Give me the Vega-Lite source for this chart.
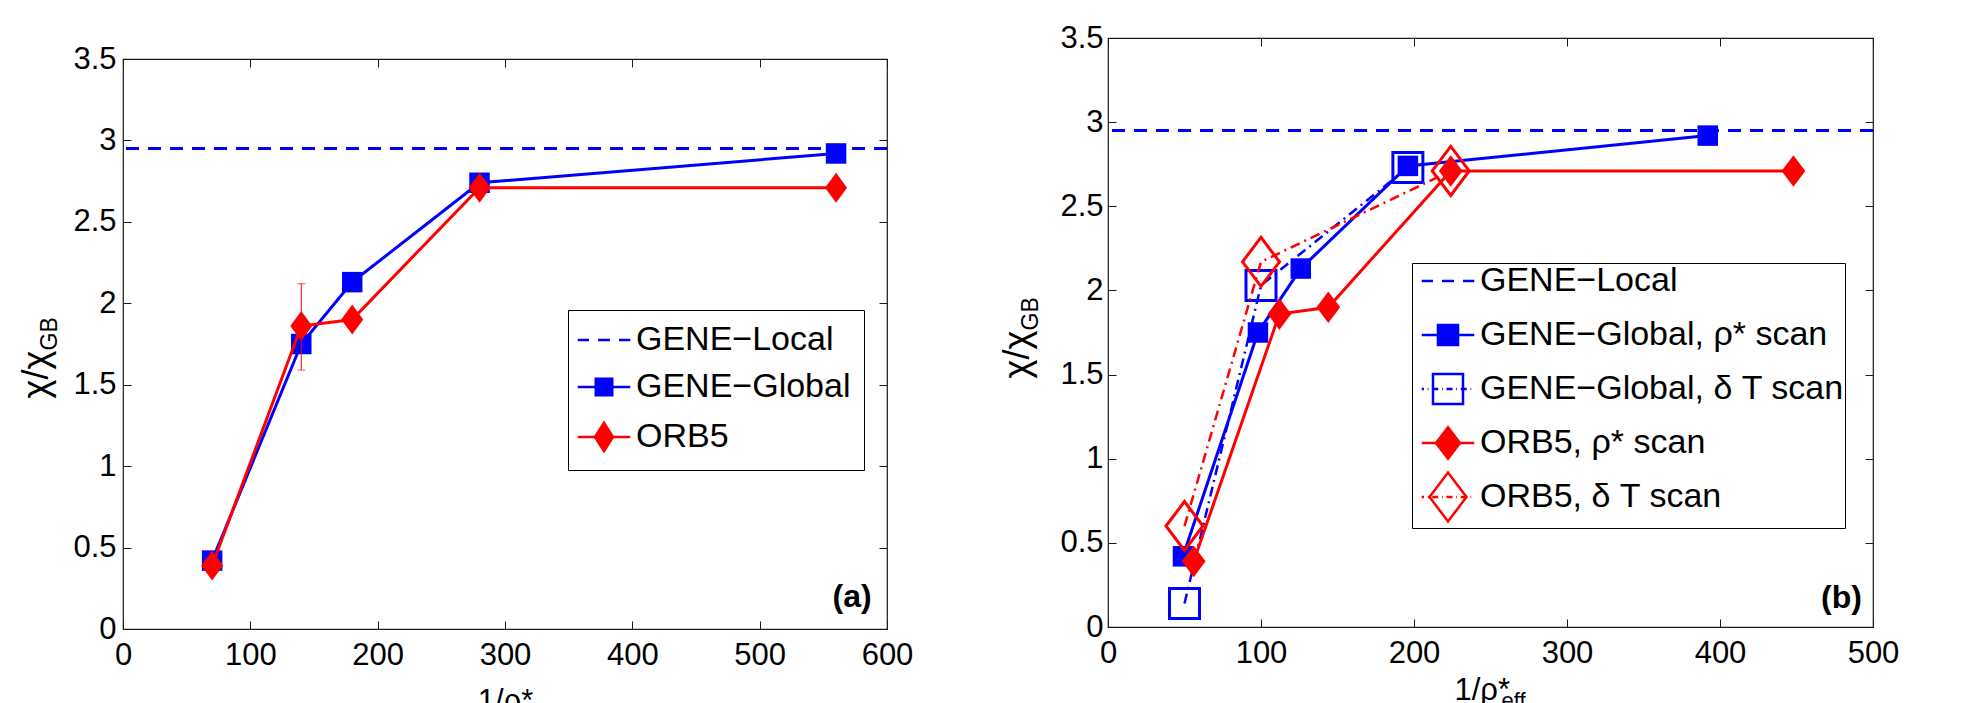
{
  "$schema": "https://vega.github.io/schema/vega-lite/v6.json",
  "background": "white",
  "padding": {"left": 17, "top": 21, "right": 0, "bottom": 0},
  "spacing": 84,
  "config": {
    "font": "Liberation Sans",
    "view": {"stroke": "#1a1a1a", "strokeWidth": 1.2},
    "axis": {"domain": false, "grid": false, "tickColor": "#1a1a1a", "tickWidth": 1, "tickSize": -8, "labelColor": "#000", "labelFontSize": 31, "titleColor": "#000", "titleFontWeight": "normal", "labelFlush": false, "labelOverlap": false}
  },
  "resolve": {"scale": {"shape": "independent", "fill": "independent", "stroke": "independent"}, "legend": {"shape": "independent", "fill": "independent", "stroke": "independent"}},
  "datasets": {
    "a": [
      {"series": "GENE−Local", "y": 2.95},
      {"series": "GENE−Global", "x": 70, "y": 0.42},
      {"series": "GENE−Global", "x": 140, "y": 1.75},
      {"series": "GENE−Global", "x": 180, "y": 2.13},
      {"series": "GENE−Global", "x": 280, "y": 2.74},
      {"series": "GENE−Global", "x": 560, "y": 2.92},
      {"series": "ORB5", "x": 70, "y": 0.39},
      {"series": "ORB5", "x": 140, "y": 1.86},
      {"series": "ORB5", "x": 180, "y": 1.9},
      {"series": "ORB5", "x": 280, "y": 2.71},
      {"series": "ORB5", "x": 560, "y": 2.71}
    ],
    "aerr": [{"x": 140, "lo": 1.59, "hi": 2.12}],
    "b": [
      {"series": "GENE−Local", "y": 2.95},
      {"series": "GENE−Global, ρ* scan", "x": 49, "y": 0.42},
      {"series": "GENE−Global, ρ* scan", "x": 98, "y": 1.75},
      {"series": "GENE−Global, ρ* scan", "x": 126, "y": 2.13},
      {"series": "GENE−Global, ρ* scan", "x": 196, "y": 2.74},
      {"series": "GENE−Global, ρ* scan", "x": 392, "y": 2.92},
      {"series": "GENE−Global, δ T scan", "x": 50, "y": 0.14},
      {"series": "GENE−Global, δ T scan", "x": 100, "y": 2.03},
      {"series": "GENE−Global, δ T scan", "x": 196, "y": 2.73},
      {"series": "ORB5, ρ* scan", "x": 56, "y": 0.39},
      {"series": "ORB5, ρ* scan", "x": 112, "y": 1.86},
      {"series": "ORB5, ρ* scan", "x": 144, "y": 1.9},
      {"series": "ORB5, ρ* scan", "x": 224, "y": 2.71},
      {"series": "ORB5, ρ* scan", "x": 448, "y": 2.71},
      {"series": "ORB5, δ T scan", "x": 50, "y": 0.6},
      {"series": "ORB5, δ T scan", "x": 100, "y": 2.17},
      {"series": "ORB5, δ T scan", "x": 224, "y": 2.71}
    ],
    "labels": [{"panel": "a", "label": "(a)"}, {"panel": "b", "label": "(b)"}]
  },
  "hconcat": [
    {
      "spacing": 0,
      "bounds": "flush",
      "vconcat": [
        {"width": 764, "height": 21, "view": {"stroke": null}, "data": {"values": []}, "mark": "point"},
        {
          "width": 764,
          "height": 570,
          "resolve": {"axis": {"x": "independent", "y": "independent"}},
          "layer": [
            {
              "data": {"name": "a"},
              "transform": [{"filter": "datum.series === 'GENE−Local'"}],
              "mark": {"type": "rule", "color": "#0000ff", "strokeWidth": 3, "strokeDash": [13, 9]},
              "encoding": {"y": {"field": "y", "type": "quantitative", "scale": {"domain": [0, 3.5], "nice": false}, "axis": null}}
            },
            {
              "data": {"name": "a"},
              "transform": [{"filter": "datum.series === 'GENE−Global'"}],
              "mark": {"type": "line", "color": "#0000ff", "strokeWidth": 3},
              "encoding": {
                "x": {"field": "x", "type": "quantitative", "scale": {"domain": [0, 600], "nice": false, "zero": false},
                  "axis": {"orient": "bottom", "values": [0, 100, 200, 300, 400, 500, 600], "format": "d", "labelPadding": 19.5, "title": "1/ρ*", "titleFontSize": 31, "titleX": 382, "titleY": 81, "titleBaseline": "alphabetic", "titleAlign": "center"}},
                "y": {"field": "y", "type": "quantitative", "scale": {"domain": [0, 3.5], "nice": false},
                  "axis": {"orient": "left", "values": [0, 0.5, 1, 1.5, 2, 2.5, 3, 3.5], "format": "~g", "labelPadding": 15, "title": "χ/χ", "titleFontSize": 36, "titleAngle": 270, "titleBaseline": "alphabetic", "titleAlign": "left", "titleX": -76, "titleY": 339}}
              }
            },
            {
              "data": {"name": "a"},
              "transform": [{"filter": "datum.series === 'GENE−Global'"}],
              "mark": {"type": "point", "shape": "square", "filled": true, "size": 420, "color": "#0000ff", "opacity": 1},
              "encoding": {
                "x": {"field": "x", "type": "quantitative", "scale": {"domain": [0, 600], "nice": false, "zero": false},
                  "axis": {"orient": "top", "values": [0, 100, 200, 300, 400, 500, 600], "labels": false, "title": null}},
                "y": {"field": "y", "type": "quantitative", "scale": {"domain": [0, 3.5], "nice": false},
                  "axis": {"orient": "right", "values": [0, 0.5, 1, 1.5, 2, 2.5, 3, 3.5], "labels": false, "title": "GB", "titleFontSize": 23, "titleAngle": 270, "titleBaseline": "alphabetic", "titleAlign": "left", "titleX": -831, "titleY": 291}}
              }
            },
            {
              "data": {"name": "aerr"},
              "mark": {"type": "errorbar", "color": "#ff0000", "thickness": 1, "ticks": {"size": 8}},
              "encoding": {
                "x": {"field": "x", "type": "quantitative", "axis": null},
                "y": {"field": "lo", "type": "quantitative", "axis": null},
                "y2": {"field": "hi"}
              }
            },
            {
              "data": {"name": "a"},
              "transform": [{"filter": "datum.series === 'ORB5'"}],
              "mark": {"type": "line", "color": "#ff0000", "strokeWidth": 3},
              "encoding": {
                "x": {"field": "x", "type": "quantitative", "axis": null},
                "y": {"field": "y", "type": "quantitative", "axis": null}
              }
            },
            {
              "data": {"name": "a"},
              "transform": [{"filter": "datum.series === 'ORB5'"}],
              "mark": {"type": "point", "shape": "M-0.733,0L0,-1L0.733,0L0,1Z", "filled": true, "size": 900, "color": "#ff0000", "opacity": 1},
              "encoding": {
                "x": {"field": "x", "type": "quantitative", "axis": null},
                "y": {"field": "y", "type": "quantitative", "axis": null}
              }
            },
            {
              "data": {"name": "labels"},
              "transform": [{"filter": "datum.panel === 'a'"}],
              "mark": {"type": "text", "fontWeight": "bold", "fontSize": 32, "align": "right", "baseline": "middle", "color": "#000"},
              "encoding": {
                "x": {"datum": 588, "type": "quantitative", "axis": null},
                "y": {"datum": 0.195, "type": "quantitative", "axis": null},
                "text": {"field": "label"}
              }
            },
            {
              "data": {"name": "a"},
              "mark": {"type": "point", "opacity": 0},
              "encoding": {
                "x": {"field": "x", "type": "quantitative", "axis": null},
                "y": {"field": "y", "type": "quantitative", "axis": null},
                "shape": {
                  "field": "series", "type": "nominal",
                  "scale": {
                    "domain": ["GENE−Local", "GENE−Global", "ORB5"],
                    "range": [
                      "M-1.75,0H-1M-0.4,0H0.4M1,0H1.75",
                      "M-1.75,0H1.75M-0.55,-0.55H0.55V0.55H-0.55Z",
                      "M-1.75,0H1.75M-0.6,0L0,-0.95L0.6,0L0,0.95Z"
                    ]
                  },
                  "legend": {"title": null, "orient": "none", "legendX": 445, "legendY": 272, "padding": 13, "rowPadding": 13, "symbolSize": 900, "symbolStrokeWidth": 2.5, "symbolOffset": 6, "labelOffset": 15, "labelFontSize": 34, "labelColor": "#000", "labelLimit": 0, "strokeColor": "#000", "fillColor": "#fff", "symbolOpacity": 1}
                },
                "fill": {
                  "field": "series", "type": "nominal",
                  "scale": {"domain": ["GENE−Local", "GENE−Global", "ORB5"], "range": ["transparent", "#0000ff", "#ff0000"]},
                  "legend": {"title": null, "orient": "none", "legendX": 445, "legendY": 272, "padding": 13, "rowPadding": 13, "symbolSize": 900, "symbolStrokeWidth": 2.5, "symbolOffset": 6, "labelOffset": 15, "labelFontSize": 34, "labelColor": "#000", "labelLimit": 0, "strokeColor": "#000", "fillColor": "#fff", "symbolOpacity": 1}
                },
                "stroke": {
                  "field": "series", "type": "nominal",
                  "scale": {"domain": ["GENE−Local", "GENE−Global", "ORB5"], "range": ["#0000ff", "#0000ff", "#ff0000"]},
                  "legend": {"title": null, "orient": "none", "legendX": 445, "legendY": 272, "padding": 13, "rowPadding": 13, "symbolSize": 900, "symbolStrokeWidth": 2.5, "symbolOffset": 6, "labelOffset": 15, "labelFontSize": 34, "labelColor": "#000", "labelLimit": 0, "strokeColor": "#000", "fillColor": "#fff", "symbolOpacity": 1}
                }
              }
            }
          ]
        }
      ]
    },
    {
      "width": 765,
      "height": 589,
      "resolve": {"axis": {"x": "independent", "y": "independent"}},
      "layer": [
        {
          "data": {"name": "b"},
          "transform": [{"filter": "datum.series === 'GENE−Local'"}],
          "mark": {"type": "rule", "color": "#0000ff", "strokeWidth": 3, "strokeDash": [13, 9]},
          "encoding": {"y": {"field": "y", "type": "quantitative", "scale": {"domain": [0, 3.5], "nice": false}, "axis": null}}
        },
        {
          "data": {"name": "b"},
          "transform": [{"filter": "datum.series === 'GENE−Global, ρ* scan'"}],
          "mark": {"type": "line", "color": "#0000ff", "strokeWidth": 3},
          "encoding": {
            "x": {"field": "x", "type": "quantitative", "scale": {"domain": [0, 500], "nice": false, "zero": false},
              "axis": {"orient": "bottom", "values": [0, 100, 200, 300, 400, 500], "format": "d", "labelPadding": 19.5, "title": "1/ρ*", "titleFontSize": 31, "titleX": 346, "titleY": 72, "titleBaseline": "alphabetic", "titleAlign": "left"}},
            "y": {"field": "y", "type": "quantitative", "scale": {"domain": [0, 3.5], "nice": false},
              "axis": {"orient": "left", "values": [0, 0.5, 1, 1.5, 2, 2.5, 3, 3.5], "format": "~g", "labelPadding": 13, "title": "χ/χ", "titleFontSize": 36, "titleAngle": 270, "titleBaseline": "alphabetic", "titleAlign": "left", "titleX": -80, "titleY": 340}}
          }
        },
        {
          "data": {"name": "b"},
          "transform": [{"filter": "datum.series === 'GENE−Global, ρ* scan'"}],
          "mark": {"type": "point", "shape": "square", "filled": true, "size": 420, "color": "#0000ff", "opacity": 1},
          "encoding": {
            "x": {"field": "x", "type": "quantitative", "scale": {"domain": [0, 500], "nice": false, "zero": false},
              "axis": {"orient": "top", "values": [0, 100, 200, 300, 400, 500], "labels": false, "title": "eff", "titleFontSize": 22, "titleX": 393, "titleY": 669, "titleBaseline": "alphabetic", "titleAlign": "left"}},
            "y": {"field": "y", "type": "quantitative", "scale": {"domain": [0, 3.5], "nice": false},
              "axis": {"orient": "right", "values": [0, 0.5, 1, 1.5, 2, 2.5, 3, 3.5], "labels": false, "title": "GB", "titleFontSize": 23, "titleAngle": 270, "titleBaseline": "alphabetic", "titleAlign": "left", "titleX": -836, "titleY": 292}}
          }
        },
        {
          "data": {"name": "b"},
          "transform": [{"filter": "datum.series === 'GENE−Global, δ T scan'"}],
          "mark": {"type": "line", "color": "#0000ff", "strokeWidth": 2.5, "strokeDash": [10, 5, 2, 5]},
          "encoding": {
            "x": {"field": "x", "type": "quantitative", "axis": null},
            "y": {"field": "y", "type": "quantitative", "axis": null}
          }
        },
        {
          "data": {"name": "b"},
          "transform": [{"filter": "datum.series === 'GENE−Global, δ T scan'"}],
          "mark": {"type": "point", "shape": "square", "filled": false, "size": 900, "color": "#0000ff", "strokeWidth": 3, "opacity": 1},
          "encoding": {
            "x": {"field": "x", "type": "quantitative", "axis": null},
            "y": {"field": "y", "type": "quantitative", "axis": null}
          }
        },
        {
          "data": {"name": "b"},
          "transform": [{"filter": "datum.series === 'ORB5, ρ* scan'"}],
          "mark": {"type": "line", "color": "#ff0000", "strokeWidth": 3},
          "encoding": {
            "x": {"field": "x", "type": "quantitative", "axis": null},
            "y": {"field": "y", "type": "quantitative", "axis": null}
          }
        },
        {
          "data": {"name": "b"},
          "transform": [{"filter": "datum.series === 'ORB5, ρ* scan'"}],
          "mark": {"type": "point", "shape": "M-0.75,0L0,-1L0.75,0L0,1Z", "filled": true, "size": 1000, "color": "#ff0000", "opacity": 1},
          "encoding": {
            "x": {"field": "x", "type": "quantitative", "axis": null},
            "y": {"field": "y", "type": "quantitative", "axis": null}
          }
        },
        {
          "data": {"name": "b"},
          "transform": [{"filter": "datum.series === 'ORB5, δ T scan'"}],
          "mark": {"type": "line", "color": "#ff0000", "strokeWidth": 2.5, "strokeDash": [10, 5, 2, 5]},
          "encoding": {
            "x": {"field": "x", "type": "quantitative", "axis": null},
            "y": {"field": "y", "type": "quantitative", "axis": null}
          }
        },
        {
          "data": {"name": "b"},
          "transform": [{"filter": "datum.series === 'ORB5, δ T scan'"}],
          "mark": {"type": "point", "shape": "M-0.755,0L0,-1L0.755,0L0,1Z", "filled": false, "size": 2401, "color": "#ff0000", "strokeWidth": 3, "opacity": 1},
          "encoding": {
            "x": {"field": "x", "type": "quantitative", "axis": null},
            "y": {"field": "y", "type": "quantitative", "axis": null}
          }
        },
        {
          "data": {"name": "labels"},
          "transform": [{"filter": "datum.panel === 'b'"}],
          "mark": {"type": "text", "fontWeight": "bold", "fontSize": 32, "align": "right", "baseline": "middle", "color": "#000"},
          "encoding": {
            "x": {"datum": 492.8, "type": "quantitative", "axis": null},
            "y": {"datum": 0.17, "type": "quantitative", "axis": null},
            "text": {"field": "label"}
          }
        },
        {
          "data": {"name": "b"},
          "mark": {"type": "point", "opacity": 0},
          "encoding": {
            "x": {"field": "x", "type": "quantitative", "axis": null},
            "y": {"field": "y", "type": "quantitative", "axis": null},
            "shape": {
              "field": "series", "type": "nominal",
              "scale": {
                "domain": ["GENE−Local", "GENE−Global, ρ* scan", "GENE−Global, δ T scan", "ORB5, ρ* scan", "ORB5, δ T scan"],
                "range": [
                  "M0,-1.63h0M0,1.63h0M-1.75,0H-1M-0.4,0H0.4M1,0H1.75",
                  "M0,-1.63h0M0,1.63h0M-1.75,0H1.75M-0.67,-0.67H0.67V0.67H-0.67Z",
                  "M0,-1.63h0M0,1.63h0M-1.75,0H-1.6M-1.35,0H-1.3M-1.05,0H-0.65M-0.4,0H-0.35M-0.1,0H0.3M0.55,0H0.6M0.85,0H1.25M1.5,0H1.55M-1,-1H1V1H-1Z",
                  "M0,-1.63h0M0,1.63h0M-1.75,0H1.75M-0.8,0L0,-1.05L0.8,0L0,1.05Z",
                  "M-1.75,0H-1.6M-1.35,0H-1.3M-1.05,0H-0.65M-0.4,0H-0.35M-0.1,0H0.3M0.55,0H0.6M0.85,0H1.25M1.5,0H1.55M-1.23,0L0,-1.63L1.23,0L0,1.63Z"
                ]
              },
              "legend": {"title": null, "orient": "none", "legendX": 304, "legendY": 225, "padding": 1, "rowPadding": -6, "symbolSize": 900, "symbolStrokeWidth": 2.5, "symbolOffset": 18, "labelOffset": 15, "labelFontSize": 34, "labelColor": "#000", "labelLimit": 0, "strokeColor": "#000", "fillColor": "#fff", "symbolOpacity": 1}
            },
            "fill": {
              "field": "series", "type": "nominal",
              "scale": {"domain": ["GENE−Local", "GENE−Global, ρ* scan", "GENE−Global, δ T scan", "ORB5, ρ* scan", "ORB5, δ T scan"], "range": ["transparent", "#0000ff", "transparent", "#ff0000", "transparent"]},
              "legend": {"title": null, "orient": "none", "legendX": 304, "legendY": 225, "padding": 1, "rowPadding": -6, "symbolSize": 900, "symbolStrokeWidth": 2.5, "symbolOffset": 18, "labelOffset": 15, "labelFontSize": 34, "labelColor": "#000", "labelLimit": 0, "strokeColor": "#000", "fillColor": "#fff", "symbolOpacity": 1}
            },
            "stroke": {
              "field": "series", "type": "nominal",
              "scale": {"domain": ["GENE−Local", "GENE−Global, ρ* scan", "GENE−Global, δ T scan", "ORB5, ρ* scan", "ORB5, δ T scan"], "range": ["#0000ff", "#0000ff", "#0000ff", "#ff0000", "#ff0000"]},
              "legend": {"title": null, "orient": "none", "legendX": 304, "legendY": 225, "padding": 1, "rowPadding": -6, "symbolSize": 900, "symbolStrokeWidth": 2.5, "symbolOffset": 18, "labelOffset": 15, "labelFontSize": 34, "labelColor": "#000", "labelLimit": 0, "strokeColor": "#000", "fillColor": "#fff", "symbolOpacity": 1}
            }
          }
        }
      ]
    }
  ]
}
